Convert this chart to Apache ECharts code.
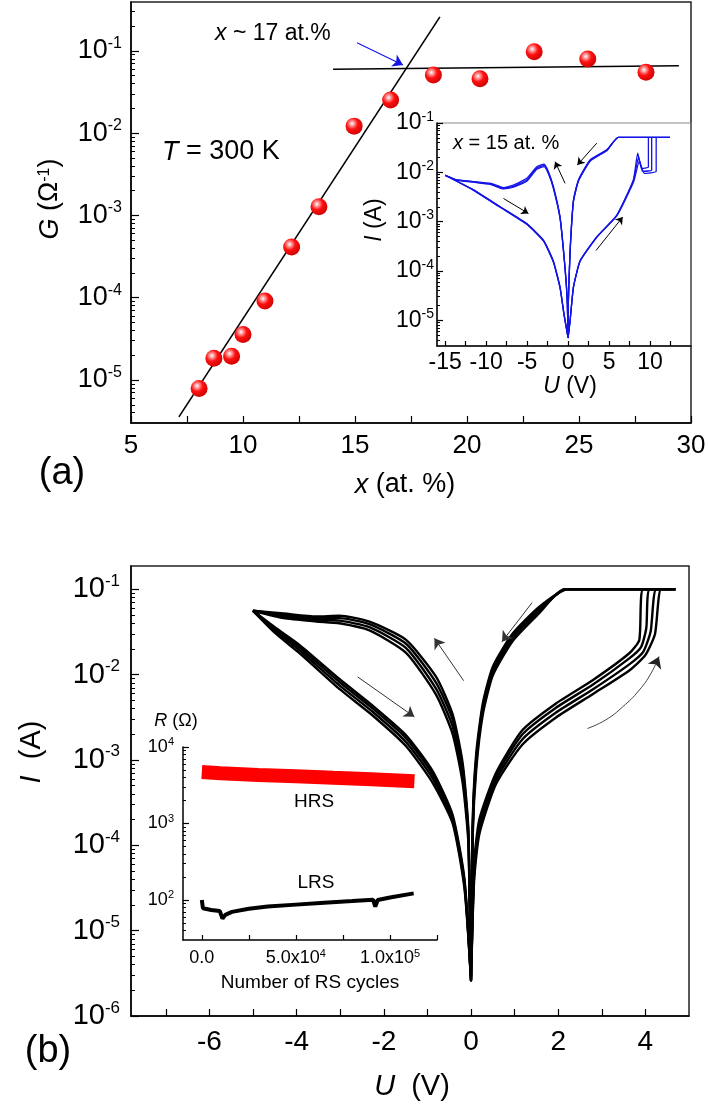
<!DOCTYPE html>
<html><head><meta charset="utf-8">
<script src="https://cdn.jsdelivr.net/npm/echarts@6/dist/echarts.min.js"></script>
<style>html,body{margin:0;padding:0;background:#fff}#c{width:709px;height:1115px}</style>
</head><body><div id="c"></div>
<script>
// ===== Panel (a): conductance G vs composition x =====
const xContent = [8.04, 8.7, 9.49, 10.0, 10.98, 12.17, 13.39, 14.96, 16.59, 18.5, 20.58, 23.0, 25.39, 27.99];
const conductance = [7.9e-6, 1.84e-5, 1.95e-5, 3.57e-5, 9.1e-5, 4.15e-4, 1.28e-3, 1.22e-2, 2.53e-2, 5.1e-2, 4.6e-2, 9.8e-2, 8.0e-2, 5.5e-2];
const fitPercolation = [[7.14, 3.56e-6], [18.79, 0.26]];
const fitMetallic = [[14.02, 0.0599], [29.46, 0.0662]];
const thresholdArrow = [[15.09, 0.126], [17.14, 0.0676]];
const xTicksA = [5, 7.5, 10, 12.5, 15, 17.5, 20, 22.5, 25, 27.5, 30];
const xLabelsA = [5, 10, 15, 20, 25, 30];
const yLabelsA = [1e-5, 1e-4, 1e-3, 1e-2, 1e-1];

// ===== Panel (a) inset: I-U loops, x = 15 at.% =====
const insetCycle1 = [[0,4.4e-6],[0.24,9.8e-6],[0.65,4.7e-5],[1.46,1.6e-4],[3.5,4.9e-4],[5.94,1.35e-3],[7.96,7.0e-3],[8.5,0.0245],[8.99,0.012],[9.8,0.0128],[9.8,0.051],[12.44,0.051],[6.13,0.051],[4.72,0.0285],[2.68,0.0178],[1.26,7.0e-3],[0.65,2.72e-3],[0.24,2.57e-4],[0.03,2.5e-5],[0,4.4e-6],[-0.1,2.5e-5],[-0.37,1.17e-4],[-0.98,1.24e-3],[-1.79,5.1e-3],[-2.4,0.0103],[-2.93,0.0146],[-3.82,0.013],[-5.04,7.6e-3],[-6.67,5.5e-3],[-7.89,4.9e-3],[-9.51,6.0e-3],[-11.55,6.5e-3],[-13.57,7.0e-3],[-15,8.7e-3],[-11.55,4.4e-3],[-8.3,2.0e-3],[-5.04,9.1e-4],[-3.0,4.2e-4],[-1.8,1.6e-4],[-0.98,4.7e-5],[-0.49,1.3e-5],[0,4.4e-6]];
const insetCycle2 = [[0,4.4e-6],[0.24,9.8e-6],[0.65,4.7e-5],[1.46,1.6e-4],[3.5,4.9e-4],[5.94,1.33e-3],[7.96,6.6e-3],[8.6,0.02],[9.1,0.0105],[10.2,0.0112],[10.2,0.051],[12.44,0.051],[6.13,0.051],[4.72,0.028],[2.68,0.0172],[1.26,6.8e-3],[0.65,2.6e-3],[0.24,2.4e-4],[0.03,2.4e-5],[0,4.4e-6],[-0.1,2.4e-5],[-0.37,1.12e-4],[-0.98,1.2e-3],[-1.79,4.9e-3],[-2.4,0.0098],[-2.93,0.0138],[-3.82,0.0122],[-5.04,7.0e-3],[-6.67,5.2e-3],[-7.89,4.75e-3],[-9.51,5.8e-3],[-11.55,6.4e-3],[-13.57,7.0e-3],[-15,8.7e-3],[-11.55,4.4e-3],[-8.3,2.0e-3],[-5.04,9.0e-4],[-3.0,4.1e-4],[-1.8,1.55e-4],[-0.98,4.6e-5],[-0.49,1.3e-5],[0,4.4e-6]];
const insetCycle3 = [[0,4.4e-6],[0.24,9.6e-6],[0.65,4.6e-5],[1.46,1.55e-4],[3.5,4.8e-4],[5.94,1.3e-3],[8.0,6.4e-3],[8.7,0.017],[9.3,9.5e-3],[10.75,0.0105],[10.75,0.051],[12.44,0.051],[6.13,0.051],[4.72,0.0275],[2.68,0.0168],[1.26,6.6e-3],[0.65,2.5e-3],[0.24,2.3e-4],[0.03,2.3e-5],[0,4.4e-6],[-0.1,2.3e-5],[-0.37,1.08e-4],[-0.98,1.15e-3],[-1.79,4.7e-3],[-2.4,0.0093],[-2.93,0.013],[-3.82,0.0115],[-5.04,6.6e-3],[-6.67,5.0e-3],[-7.89,4.6e-3],[-9.51,5.7e-3],[-11.55,6.3e-3],[-13.57,6.9e-3],[-15,8.7e-3],[-11.55,4.3e-3],[-8.3,1.95e-3],[-5.04,8.8e-4],[-3.0,4.0e-4],[-1.8,1.5e-4],[-0.98,4.5e-5],[-0.49,1.25e-5],[0,4.4e-6]];
const insetArrowsA = [[[-7.89,2.95e-3],[-4.84,1.46e-3]],[[-0.37,5.97e-3],[-1.59,0.0164]],[[3.5,0.039],[1.13,0.0141]],[[3.41,2.6e-4],[6.67,1.24e-3]]];
const xTicksInsetA = [-15,-12.5,-10,-7.5,-5,-2.5,0,2.5,5,7.5,10,12.5];
const xLabelsInsetA = [-15,-10,-5,0,5,10];
const yLabelsInsetA = [1e-5,1e-4,1e-3,1e-2,1e-1];

// ===== Panel (b): I-U switching cycles =====
const cycleA = [[0,2.6e-6],[0.07,6e-5],[0.19,2.0e-4],[0.57,7.0e-4],[1.18,2.24e-3],[1.95,4.6e-3],[2.79,8.6e-3],[3.63,0.0178],[3.86,0.0255],[3.95,0.1],[4.69,0.1],[2.22,0.1],[1.57,0.0625],[0.96,0.0305],[0.5,0.0124],[0.27,4.6e-3],[0.12,1.2e-3],[0.04,2.0e-4],[0,2.6e-6],[-0.06,1.5e-4],[-0.19,9e-4],[-0.42,3.4e-3],[-0.8,9.4e-3],[-1.49,0.0255],[-2.33,0.0417],[-3.02,0.049],[-3.55,0.048],[-4.3,0.052],[-5.0,0.056],[-4.47,0.035],[-3.93,0.0222],[-3.02,8.9e-3],[-2.25,4.3e-3],[-1.49,1.95e-3],[-0.88,7.4e-4],[-0.42,2.25e-4],[-0.15,4e-5],[0,2.6e-6]];
const cycleB = [[0,2.6e-6],[0.07,5e-5],[0.19,1.75e-4],[0.57,6.4e-4],[1.18,2.0e-3],[1.95,4.1e-3],[2.79,7.6e-3],[3.63,0.0155],[3.9,0.021],[4.02,0.035],[4.1,0.1],[4.69,0.1],[2.2,0.1],[1.57,0.06],[0.96,0.029],[0.5,0.0117],[0.27,4.2e-3],[0.12,1.05e-3],[0.04,1.8e-4],[0,2.6e-6],[-0.06,1.35e-4],[-0.19,8e-4],[-0.42,2.95e-3],[-0.8,8.0e-3],[-1.49,0.023],[-2.33,0.039],[-3.02,0.046],[-3.55,0.046],[-4.3,0.050],[-5.0,0.056],[-4.47,0.0335],[-3.93,0.0208],[-3.02,8.2e-3],[-2.25,4.0e-3],[-1.49,1.8e-3],[-0.88,6.8e-4],[-0.42,2.1e-4],[-0.15,3.7e-5],[0,2.6e-6]];
const cycleC = [[0,2.6e-6],[0.07,4.4e-5],[0.19,1.55e-4],[0.57,5.8e-4],[1.18,1.75e-3],[1.95,3.6e-3],[2.79,6.7e-3],[3.63,0.0132],[3.95,0.0185],[4.12,0.032],[4.25,0.1],[4.69,0.1],[2.17,0.1],[1.57,0.056],[0.96,0.027],[0.5,0.0108],[0.27,3.8e-3],[0.12,9.2e-4],[0.04,1.6e-4],[0,2.6e-6],[-0.06,1.2e-4],[-0.19,6.6e-4],[-0.42,2.45e-3],[-0.8,6.8e-3],[-1.49,0.0205],[-2.33,0.036],[-3.02,0.043],[-3.55,0.044],[-4.3,0.048],[-5.0,0.056],[-4.47,0.032],[-3.93,0.0193],[-3.02,7.5e-3],[-2.25,3.65e-3],[-1.49,1.62e-3],[-0.88,6.1e-4],[-0.42,1.95e-4],[-0.15,3.4e-5],[0,2.6e-6]];
const cycleD = [[0,2.6e-6],[0.07,3.8e-5],[0.19,1.35e-4],[0.57,5.2e-4],[1.18,1.52e-3],[1.95,3.15e-3],[2.79,5.9e-3],[3.63,0.0112],[4.0,0.017],[4.22,0.03],[4.36,0.1],[4.69,0.1],[2.14,0.1],[1.57,0.053],[0.96,0.025],[0.5,9.8e-3],[0.27,3.4e-3],[0.12,7.8e-4],[0.04,1.35e-4],[0,2.6e-6],[-0.06,1.05e-4],[-0.19,5.3e-4],[-0.42,2.0e-3],[-0.8,5.8e-3],[-1.49,0.018],[-2.33,0.033],[-3.02,0.040],[-3.55,0.042],[-4.3,0.046],[-5.0,0.056],[-4.47,0.030],[-3.93,0.0178],[-3.02,6.8e-3],[-2.25,3.3e-3],[-1.49,1.45e-3],[-0.88,5.4e-4],[-0.42,1.8e-4],[-0.15,3.1e-5],[0,2.6e-6]];
const arrowsB = [[[-2.60,9.4e-3],[-1.30,3.2e-3]],[[-0.17,8.5e-3],[-0.84,0.0267]],[[1.40,0.0697],[0.71,0.0243]]];
const curvedArrowPathB = [[2.67,2.34e-3],[3.09,2.95e-3],[3.48,4.2e-3],[3.86,6.6e-3],[4.13,0.0104],[4.31,0.0162]];
const curvedArrowHeadB = [[4.25,0.0138],[4.31,0.0162]];
const xTicksB = [-7,-6,-5,-4,-3,-2,-1,0,1,2,3,4];
const xLabelsB = [-6,-4,-2,0,2,4];
const yLabelsB = [1e-6,1e-5,1e-4,1e-3,1e-2,1e-1];

// ===== Panel (b) inset: endurance =====
const cyclesHRS = [0, 10000, 30000, 50000, 70000, 90000, 113000];
const resistHRS = [4700, 4550, 4300, 4150, 3950, 3800, 3570];
const cyclesLRS = [0, 600, 5000, 9500, 11000, 12500, 16000, 25000, 35000, 50000, 65000, 80000, 91000, 92200, 93500, 100000, 112600];
const resistLRS = [100, 78, 74, 72, 57, 64, 70, 77, 82, 87, 92, 97, 101, 82, 100, 108, 122];
const xTicksInsetB = [0, 25000, 50000, 75000, 100000, 125000];
const xLabelsInsetB = [0, 50000, 100000];
const yLabelsInsetB = [100, 1000, 10000];

// ---------------------------------------------------------------
const F = '"Liberation Sans", Arial, sans-serif';
const FN = '"Liberation Sans Narrow", "Arial Narrow", "Liberation Sans", sans-serif';
function minorLog(lo, hi) {
  const out = [];
  for (let e = Math.floor(Math.log10(lo)); e <= Math.ceil(Math.log10(hi)); e++) {
    for (let k = 2; k <= 9; k++) { const v = k * Math.pow(10, e); if (v > lo * 1.0001 && v < hi * 0.9999) out.push(v); }
  }
  return out;
}
function powRich(size, ssize, fam) {
  return { b: { fontSize: size, fontFamily: fam, color: '#000', lineHeight: size * 1.15 },
           s: { fontSize: ssize, fontFamily: fam, color: '#000', verticalAlign: 'top', lineHeight: ssize } };
}
function powFmt(v) { const e = Math.round(Math.log10(v)); return '{b|10}{s|' + e + '}'; }

function logAxes(grid, min, max, labels, size, ssize, fam, majorLen, minorLen, margin) {
  return [{
    type: 'log', logBase: 10, gridIndex: grid, min: min, max: max, position: 'left',
    axisLine: { show: true, onZero: false, lineStyle: { color: '#000', width: 1.5 } },
    axisTick: { show: true, inside: true, length: majorLen, customValues: labels, lineStyle: { color: '#000', width: 1.2 } },
    axisLabel: { show: true, customValues: labels, formatter: powFmt, margin: margin, rich: powRich(size, ssize, fam) },
    splitLine: { show: false }, minorTick: { show: false }
  }, {
    type: 'log', logBase: 10, gridIndex: grid, min: min, max: max, position: 'left', offset: 0,
    axisLine: { show: false, onZero: false },
    axisTick: { show: true, inside: true, length: minorLen, customValues: minorLog(min, max), lineStyle: { color: '#000', width: 1 } },
    axisLabel: { show: false }, splitLine: { show: false }
  }];
}
function valAxis(grid, min, max, ticks, labels, size, fam, tickLen, margin, formatter, rich) {
  return {
    type: 'value', gridIndex: grid, min: min, max: max, position: 'bottom',
    axisLine: { show: true, onZero: false, lineStyle: { color: '#000', width: 1.5 } },
    axisTick: { show: true, inside: true, length: tickLen, customValues: ticks, lineStyle: { color: '#000', width: 1.2 } },
    axisLabel: { show: true, customValues: labels, fontSize: size, fontFamily: fam, color: '#000', margin: margin,
                 formatter: formatter || (v => String(v)), rich: rich },
    splitLine: { show: false }
  };
}
function arrowMark(pairs, color, size, width) {
  return {
    silent: true, symbol: ['none', 'arrow'], symbolSize: size, label: { show: false },
    lineStyle: { color: color, width: width, type: 'solid' },
    emphasis: { disabled: true },
    data: pairs.map(p => [{ coord: p[0] }, { coord: p[1] }])
  };
}
function txt(x, y, text, size, opt) {
  opt = opt || {};
  const fam = opt.fam || F;
  return {
    type: 'text', x: x, y: y, rotation: opt.rot || 0, silent: true, z: 100,
    style: {
      text: text, fontSize: size, fontFamily: fam, fill: opt.color || '#000',
      align: opt.align || 'center', verticalAlign: 'middle',
      rich: {
        i: { fontSize: size, fontFamily: fam, fontStyle: 'italic', fill: opt.color || '#000' },
        s: { fontSize: Math.round(size * 0.6), fontFamily: fam, verticalAlign: 'top', lineHeight: Math.round(size * 0.6), fill: '#000' }
      }
    }
  };
}

const yA = logAxes(0, 3e-6, 0.394, yLabelsA, 27, 16, F, 8, 4, 9);
const yAi = logAxes(1, 3e-6, 0.1, yLabelsInsetA, 23, 14, F, 6, 3, 3);
const yB = logAxes(2, 1e-6, 0.1875, yLabelsB, 29, 17, F, 8, 4, 11);
const yBi = logAxes(3, 30, 10000, yLabelsInsetB, 18, 11, FN, 6, 3, 9);

const sciRich = { n: { fontSize: 18, fontFamily: FN, color: '#000', lineHeight: 20 },
                  s: { fontSize: 11, fontFamily: FN, color: '#000', verticalAlign: 'top', lineHeight: 11 } };
function sciFmt(v) {
  if (v === 0) return '{n|0.0}';
  const e = Math.floor(Math.log10(v));
  return '{n|' + (v / Math.pow(10, e)).toFixed(1) + 'x10}{s|' + e + '}';
}

const sphere = { type: 'radial', x: 0.38, y: 0.35, r: 0.75,
  colorStops: [{ offset: 0, color: '#ffffff' }, { offset: 0.18, color: '#ff9a9a' }, { offset: 0.45, color: '#ff1010' }, { offset: 1, color: '#c00000' }] };

const blue = '#1414e6';
const insetStyle = { color: blue, width: 1.3 };
const bStyle = { color: '#000', width: 2.4 };

const option = {
  animation: false,
  backgroundColor: '#fff',
  grid: [
    { left: 131, top: 2, width: 560, height: 421, show: true, borderColor: '#222', borderWidth: 1.5, backgroundColor: 'transparent' },
    { left: 437, top: 123, width: 254, height: 223, show: true, borderColor: '#888', borderWidth: 1, backgroundColor: 'transparent' },
    { left: 131, top: 566, width: 558, height: 450, show: true, borderColor: '#222', borderWidth: 1.5, backgroundColor: 'transparent' },
    { left: 183, top: 747, width: 254, height: 193, show: false }
  ],
  xAxis: [
    valAxis(0, 5, 30, xTicksA, xLabelsA, 26, F, 7, 10),
    valAxis(1, -16, 15, xTicksInsetA, xLabelsInsetA, 23, F, 5, 5),
    valAxis(2, -7.8, 5, xTicksB, xLabelsB, 28, F, 7, 12),
    valAxis(3, -10000, 125000, xTicksInsetB, xLabelsInsetB, 18, FN, 5, 8, sciFmt, sciRich)
  ],
  yAxis: [yA[0], yA[1], yAi[0], yAi[1], yB[0], yB[1], yBi[0], yBi[1]],
  series: [
    { type: 'line', xAxisIndex: 0, yAxisIndex: 0, data: fitPercolation, symbol: 'none', lineStyle: { color: '#000', width: 1.6 }, silent: true },
    { type: 'line', xAxisIndex: 0, yAxisIndex: 0, data: fitMetallic, symbol: 'none', lineStyle: { color: '#000', width: 1.6 }, silent: true,
      markLine: arrowMark([thresholdArrow], blue, 10, 1.2) },
    { type: 'scatter', xAxisIndex: 0, yAxisIndex: 0, data: xContent.map((x, i) => [x, conductance[i]]), symbolSize: 17,
      itemStyle: { color: sphere, opacity: 1 }, z: 5, silent: true },
    { type: 'line', xAxisIndex: 1, yAxisIndex: 2, data: insetCycle1, symbol: 'none', smooth: 0.15, lineStyle: insetStyle, silent: true,
      markLine: arrowMark(insetArrowsA, '#000', 7, 1) },
    { type: 'line', xAxisIndex: 1, yAxisIndex: 2, data: insetCycle2, symbol: 'none', smooth: 0.15, lineStyle: insetStyle, silent: true },
    { type: 'line', xAxisIndex: 1, yAxisIndex: 2, data: insetCycle3, symbol: 'none', smooth: 0.15, lineStyle: insetStyle, silent: true },
    { type: 'line', xAxisIndex: 2, yAxisIndex: 4, data: cycleA, symbol: 'none', smooth: 0.2, lineStyle: bStyle, silent: true,
      markLine: arrowMark(arrowsB, '#333', 10, 1) },
    { type: 'line', xAxisIndex: 2, yAxisIndex: 4, data: cycleB, symbol: 'none', smooth: 0.2, lineStyle: bStyle, silent: true },
    { type: 'line', xAxisIndex: 2, yAxisIndex: 4, data: cycleC, symbol: 'none', smooth: 0.2, lineStyle: bStyle, silent: true },
    { type: 'line', xAxisIndex: 2, yAxisIndex: 4, data: cycleD, symbol: 'none', smooth: 0.2, lineStyle: bStyle, silent: true },
    { type: 'line', xAxisIndex: 2, yAxisIndex: 4, data: curvedArrowPathB, symbol: 'none', smooth: 0.5, lineStyle: { color: '#444', width: 1 }, silent: true,
      markLine: arrowMark([curvedArrowHeadB], '#222', 11, 1) },
    { type: 'line', xAxisIndex: 3, yAxisIndex: 6, data: cyclesHRS.map((c, i) => [c, resistHRS[i]]), symbol: 'none',
      lineStyle: { color: '#ff0000', width: 14, cap: 'butt' }, silent: true },
    { type: 'line', xAxisIndex: 3, yAxisIndex: 6, data: cyclesLRS.map((c, i) => [c, resistLRS[i]]), symbol: 'none',
      lineStyle: { color: '#000', width: 4 }, silent: true }
  ],
  graphic: [
    txt(215, 34, '{i|x} ~ 17 at.%', 23, { align: 'left' }),
    txt(162, 152, '{i|T} = 300 K', 27, { align: 'left' }),
    txt(453, 143, '{i|x} = 15 at. %', 20, { align: 'left' }),
    txt(405, 485, '{i|x} (at. %)', 27),
    txt(50, 199, '{i|G} (Ω{s|-1})', 27, { rot: Math.PI / 2 }),
    txt(375, 220, '{i|I} (A)', 23, { rot: Math.PI / 2 }),
    txt(570, 387, '{i|U} (V)', 23),
    txt(62, 474, '(a)', 38),
    txt(32, 752, '{i|I}  (A)', 29, { rot: Math.PI / 2 }),
    txt(412, 1087, '{i|U}  (V)', 29),
    txt(48, 1052, '(b)', 38),
    txt(176, 721, '{i|R} (Ω)', 18, { fam: FN }),
    txt(314, 802, 'HRS', 19, { fam: FN }),
    txt(316, 883, 'LRS', 19, { fam: FN }),
    txt(310, 983, 'Number of RS cycles', 19, { fam: FN })
  ]
};
const chart = echarts.init(document.getElementById('c'), null, { renderer: 'canvas' });
chart.setOption(option);
</script></body></html>
